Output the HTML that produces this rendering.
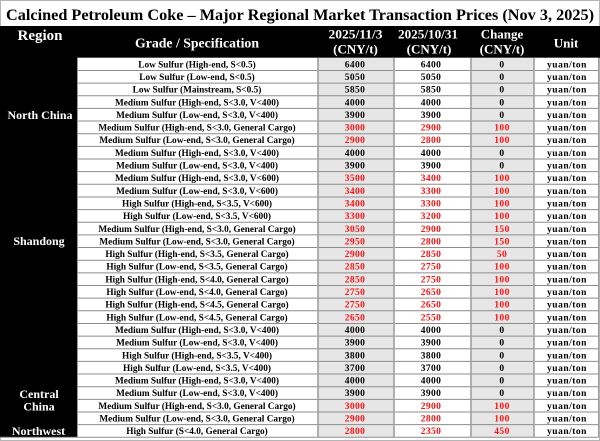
<!DOCTYPE html>
<html><head><meta charset="utf-8">
<style>
html,body{margin:0;padding:0;width:600px;height:441px;overflow:hidden;background:#fff}
svg{display:block}
text{font-family:"Liberation Serif","Times New Roman",serif;font-weight:bold}
.h{fill:#fff;text-anchor:middle}
.g{font-size:9.3px;text-anchor:middle;fill:#000}
.n{font-size:9.5px;text-anchor:middle;fill:#000;letter-spacing:0.4px}
.r{fill:#ff1010}
.u{font-size:9.5px;text-anchor:middle;fill:#000;letter-spacing:0.5px}
.rg{fill:#fff;font-size:12px;text-anchor:middle}
</style></head><body>
<svg width="600" height="441" viewBox="0 0 600 441" xmlns="http://www.w3.org/2000/svg">
<rect x="0" y="0" width="600" height="441" fill="#fff"/>
<rect x="0.5" y="0.5" width="599" height="440" fill="none" stroke="#b4b4b4" stroke-width="1"/>
<text x="6" y="20" font-size="15.5" textLength="588" lengthAdjust="spacingAndGlyphs" fill="#000">Calcined Petroleum Coke – Major Regional Market Transaction Prices (Nov 3, 2025)</text>

<rect x="0" y="26" width="600" height="31.8" fill="#000"/>
<rect x="0" y="26" width="77" height="411.3" fill="#000"/>

<rect x="77" y="57.8" width="241" height="379.5" fill="#fff"/>
<rect x="318" y="57.8" width="76" height="379.5" fill="#e6e6e6"/>
<rect x="394" y="57.8" width="77" height="379.5" fill="#fff"/>
<rect x="471" y="57.8" width="63" height="379.5" fill="#e6e6e6"/>
<rect x="534" y="57.8" width="64.5" height="379.5" fill="#fff"/>

<path d="M77 70.45H598.5M77 83.1H598.5M77 95.75H598.5M77 108.4H598.5M77 121.05H598.5M77 133.7H598.5M77 146.35H598.5M77 159H598.5M77 171.65H598.5M77 184.3H598.5M77 196.95H598.5M77 209.6H598.5M77 222.25H598.5M77 234.9H598.5M77 247.55H598.5M77 260.2H598.5M77 272.85H598.5M77 285.5H598.5M77 298.15H598.5M77 310.8H598.5M77 323.45H598.5M77 336.1H598.5M77 348.75H598.5M77 361.4H598.5M77 374.05H598.5M77 386.7H598.5M77 399.35H598.5M77 412H598.5M77 424.65H598.5M0 437.3H598.5" stroke="#8c8c8c" stroke-width="1" fill="none"/>
<path d="M318 57.8V437.3M394 57.8V437.3M471 57.8V437.3M534 57.8V437.3" stroke="#a0a0a0" stroke-width="1.6" fill="none"/>
<path d="M598.5 57.8V437.3M77.5 57.8V437.3" stroke="#9a9a9a" stroke-width="1" fill="none"/>

<!-- header -->
<text class="h" x="40" y="40" font-size="15">Region</text>
<text class="h" x="197" y="47.5" font-size="13.5" textLength="124" lengthAdjust="spacingAndGlyphs">Grade / Specification</text>
<text class="h" x="355.5" y="38.5" font-size="13" textLength="54" lengthAdjust="spacingAndGlyphs">2025/11/3</text>
<text class="h" x="355.5" y="53.5" font-size="13">(CNY/t)</text>
<text class="h" x="428" y="38.5" font-size="13" textLength="60" lengthAdjust="spacingAndGlyphs">2025/10/31</text>
<text class="h" x="429" y="53.5" font-size="13">(CNY/t)</text>
<text class="h" x="502" y="38.5" font-size="13">Change</text>
<text class="h" x="502" y="53.5" font-size="13">(CNY/t)</text>
<text class="h" x="566" y="47.5" font-size="13">Unit</text>

<!-- region labels -->
<text class="rg" x="40" y="119">North China</text>
<text class="rg" x="39" y="245">Shandong</text>
<text class="rg" x="39" y="398">Central</text>
<text class="rg" x="39" y="410.5">China</text>
<text class="rg" x="38.5" y="435">Northwest</text>

<!-- rows -->
<text class="g" x="197" y="67.3">Low Sulfur (High-end, S&lt;0.5)</text>
<text class="n" x="355" y="67.3">6400</text><text class="n" x="431" y="67.3">6400</text><text class="n" x="502" y="67.3">0</text><text class="u" x="567" y="67.3">yuan/ton</text>

<text class="g" x="197" y="80">Low Sulfur (Low-end, S&lt;0.5)</text>
<text class="n" x="355" y="80">5050</text><text class="n" x="431" y="80">5050</text><text class="n" x="502" y="80">0</text><text class="u" x="567" y="80">yuan/ton</text>

<text class="g" x="197" y="92.6">Low Sulfur (Mainstream, S&lt;0.5)</text>
<text class="n" x="355" y="92.6">5850</text><text class="n" x="431" y="92.6">5850</text><text class="n" x="502" y="92.6">0</text><text class="u" x="567" y="92.6">yuan/ton</text>

<text class="g" x="197" y="105.3">Medium Sulfur (High-end, S&lt;3.0, V&lt;400)</text>
<text class="n" x="355" y="105.3">4000</text><text class="n" x="431" y="105.3">4000</text><text class="n" x="502" y="105.3">0</text><text class="u" x="567" y="105.3">yuan/ton</text>

<text class="g" x="197" y="117.9">Medium Sulfur (Low-end, S&lt;3.0, V&lt;400)</text>
<text class="n" x="355" y="117.9">3900</text><text class="n" x="431" y="117.9">3900</text><text class="n" x="502" y="117.9">0</text><text class="u" x="567" y="117.9">yuan/ton</text>

<text class="g" x="197" y="130.6">Medium Sulfur (High-end, S&lt;3.0, General Cargo)</text>
<text class="n r" x="355" y="130.6">3000</text><text class="n r" x="431" y="130.6">2900</text><text class="n r" x="502" y="130.6">100</text><text class="u" x="567" y="130.6">yuan/ton</text>

<text class="g" x="197" y="143.2">Medium Sulfur (Low-end, S&lt;3.0, General Cargo)</text>
<text class="n r" x="355" y="143.2">2900</text><text class="n r" x="431" y="143.2">2800</text><text class="n r" x="502" y="143.2">100</text><text class="u" x="567" y="143.2">yuan/ton</text>

<text class="g" x="197" y="155.9">Medium Sulfur (High-end, S&lt;3.0, V&lt;400)</text>
<text class="n" x="355" y="155.9">4000</text><text class="n" x="431" y="155.9">4000</text><text class="n" x="502" y="155.9">0</text><text class="u" x="567" y="155.9">yuan/ton</text>

<text class="g" x="197" y="168.5">Medium Sulfur (Low-end, S&lt;3.0, V&lt;400)</text>
<text class="n" x="355" y="168.5">3900</text><text class="n" x="431" y="168.5">3900</text><text class="n" x="502" y="168.5">0</text><text class="u" x="567" y="168.5">yuan/ton</text>

<text class="g" x="197" y="181.2">Medium Sulfur (High-end, S&lt;3.0, V&lt;600)</text>
<text class="n r" x="355" y="181.2">3500</text><text class="n r" x="431" y="181.2">3400</text><text class="n r" x="502" y="181.2">100</text><text class="u" x="567" y="181.2">yuan/ton</text>

<text class="g" x="197" y="193.8">Medium Sulfur (Low-end, S&lt;3.0, V&lt;600)</text>
<text class="n r" x="355" y="193.8">3400</text><text class="n r" x="431" y="193.8">3300</text><text class="n r" x="502" y="193.8">100</text><text class="u" x="567" y="193.8">yuan/ton</text>

<text class="g" x="197" y="206.5">High Sulfur (High-end, S&lt;3.5, V&lt;600)</text>
<text class="n r" x="355" y="206.5">3400</text><text class="n r" x="431" y="206.5">3300</text><text class="n r" x="502" y="206.5">100</text><text class="u" x="567" y="206.5">yuan/ton</text>

<text class="g" x="197" y="219.1">High Sulfur (Low-end, S&lt;3.5, V&lt;600)</text>
<text class="n r" x="355" y="219.1">3300</text><text class="n r" x="431" y="219.1">3200</text><text class="n r" x="502" y="219.1">100</text><text class="u" x="567" y="219.1">yuan/ton</text>

<text class="g" x="197" y="231.8">Medium Sulfur (High-end, S&lt;3.0, General Cargo)</text>
<text class="n r" x="355" y="231.8">3050</text><text class="n r" x="431" y="231.8">2900</text><text class="n r" x="502" y="231.8">150</text><text class="u" x="567" y="231.8">yuan/ton</text>

<text class="g" x="197" y="244.4">Medium Sulfur (Low-end, S&lt;3.0, General Cargo)</text>
<text class="n r" x="355" y="244.4">2950</text><text class="n r" x="431" y="244.4">2800</text><text class="n r" x="502" y="244.4">150</text><text class="u" x="567" y="244.4">yuan/ton</text>

<text class="g" x="197" y="257.1">High Sulfur (High-end, S&lt;3.5, General Cargo)</text>
<text class="n r" x="355" y="257.1">2900</text><text class="n r" x="431" y="257.1">2850</text><text class="n r" x="502" y="257.1">50</text><text class="u" x="567" y="257.1">yuan/ton</text>

<text class="g" x="197" y="269.7">High Sulfur (Low-end, S&lt;3.5, General Cargo)</text>
<text class="n r" x="355" y="269.7">2850</text><text class="n r" x="431" y="269.7">2750</text><text class="n r" x="502" y="269.7">100</text><text class="u" x="567" y="269.7">yuan/ton</text>

<text class="g" x="197" y="282.4">High Sulfur (High-end, S&lt;4.0, General Cargo)</text>
<text class="n r" x="355" y="282.4">2850</text><text class="n r" x="431" y="282.4">2750</text><text class="n r" x="502" y="282.4">100</text><text class="u" x="567" y="282.4">yuan/ton</text>

<text class="g" x="197" y="295">High Sulfur (Low-end, S&lt;4.0, General Cargo)</text>
<text class="n r" x="355" y="295">2750</text><text class="n r" x="431" y="295">2650</text><text class="n r" x="502" y="295">100</text><text class="u" x="567" y="295">yuan/ton</text>

<text class="g" x="197" y="307.7">High Sulfur (High-end, S&lt;4.5, General Cargo)</text>
<text class="n r" x="355" y="307.7">2750</text><text class="n r" x="431" y="307.7">2650</text><text class="n r" x="502" y="307.7">100</text><text class="u" x="567" y="307.7">yuan/ton</text>

<text class="g" x="197" y="320.3">High Sulfur (Low-end, S&lt;4.5, General Cargo)</text>
<text class="n r" x="355" y="320.3">2650</text><text class="n r" x="431" y="320.3">2550</text><text class="n r" x="502" y="320.3">100</text><text class="u" x="567" y="320.3">yuan/ton</text>

<text class="g" x="197" y="333">Medium Sulfur (High-end, S&lt;3.0, V&lt;400)</text>
<text class="n" x="355" y="333">4000</text><text class="n" x="431" y="333">4000</text><text class="n" x="502" y="333">0</text><text class="u" x="567" y="333">yuan/ton</text>

<text class="g" x="197" y="345.6">Medium Sulfur (Low-end, S&lt;3.0, V&lt;400)</text>
<text class="n" x="355" y="345.6">3900</text><text class="n" x="431" y="345.6">3900</text><text class="n" x="502" y="345.6">0</text><text class="u" x="567" y="345.6">yuan/ton</text>

<text class="g" x="197" y="358.3">High Sulfur (High-end, S&lt;3.5, V&lt;400)</text>
<text class="n" x="355" y="358.3">3800</text><text class="n" x="431" y="358.3">3800</text><text class="n" x="502" y="358.3">0</text><text class="u" x="567" y="358.3">yuan/ton</text>

<text class="g" x="197" y="370.9">High Sulfur (Low-end, S&lt;3.5, V&lt;400)</text>
<text class="n" x="355" y="370.9">3700</text><text class="n" x="431" y="370.9">3700</text><text class="n" x="502" y="370.9">0</text><text class="u" x="567" y="370.9">yuan/ton</text>

<text class="g" x="197" y="383.6">Medium Sulfur (High-end, S&lt;3.0, V&lt;400)</text>
<text class="n" x="355" y="383.6">4000</text><text class="n" x="431" y="383.6">4000</text><text class="n" x="502" y="383.6">0</text><text class="u" x="567" y="383.6">yuan/ton</text>

<text class="g" x="197" y="396.2">Medium Sulfur (Low-end, S&lt;3.0, V&lt;400)</text>
<text class="n" x="355" y="396.2">3900</text><text class="n" x="431" y="396.2">3900</text><text class="n" x="502" y="396.2">0</text><text class="u" x="567" y="396.2">yuan/ton</text>

<text class="g" x="197" y="408.9">Medium Sulfur (High-end, S&lt;3.0, General Cargo)</text>
<text class="n r" x="355" y="408.9">3000</text><text class="n r" x="431" y="408.9">2900</text><text class="n r" x="502" y="408.9">100</text><text class="u" x="567" y="408.9">yuan/ton</text>

<text class="g" x="197" y="421.5">Medium Sulfur (Low-end, S&lt;3.0, General Cargo)</text>
<text class="n r" x="355" y="421.5">2900</text><text class="n r" x="431" y="421.5">2800</text><text class="n r" x="502" y="421.5">100</text><text class="u" x="567" y="421.5">yuan/ton</text>

<text class="g" x="197" y="434.2">High Sulfur (S&lt;4.0, General Cargo)</text>
<text class="n r" x="355" y="434.2">2800</text><text class="n r" x="431" y="434.2">2350</text><text class="n r" x="502" y="434.2">450</text><text class="u" x="567" y="434.2">yuan/ton</text>
</svg>
</body></html>
